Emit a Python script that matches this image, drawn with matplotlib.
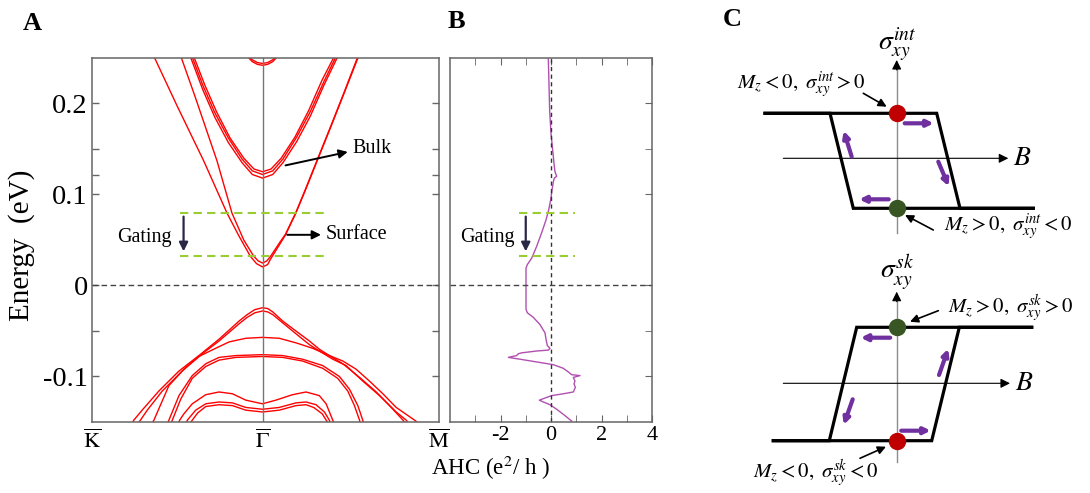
import matplotlib.pyplot as plt
import numpy as np

plt.rcParams['font.family'] = ['Liberation Serif', 'DejaVu Serif']
plt.rcParams['mathtext.fontset'] = 'stix'

# ---------------- panel A: band structure, k in units of |K-Gamma|, E in eV
# conduction: surface-state pair
surf1_k = [-0.645, -0.50, -0.345, -0.208, -0.14, -0.071, -0.035, 0, 0.03, 0.047, 0.10, 0.135, 0.194, 0.25, 0.312, 0.40, 0.48, 0.570]
surf1_e = [0.255, 0.197, 0.137, 0.0795, 0.055, 0.032, 0.024, 0.0204, 0.023, 0.029, 0.045, 0.0557, 0.079, 0.104, 0.133, 0.174, 0.212, 0.255]
surf2_k = [-0.485, -0.40, -0.267, -0.179, -0.11, -0.051, -0.025, 0, 0.025, 0.047, 0.10, 0.135, 0.194, 0.25, 0.312, 0.40, 0.48, 0.566]
surf2_e = [0.255, 0.21, 0.137, 0.0795, 0.05, 0.032, 0.027, 0.0247, 0.027, 0.032, 0.047, 0.0565, 0.0795, 0.105, 0.134, 0.175, 0.213, 0.255]
# conduction: bulk bands
bulk1_k = [-0.43, -0.35, -0.28, -0.2, -0.12, -0.06, 0, 0.06, 0.12, 0.2, 0.28, 0.36, 0.45]
bulk1_e = [0.255, 0.215, 0.185, 0.157, 0.135, 0.122, 0.118, 0.122, 0.135, 0.158, 0.186, 0.220, 0.255]
bulk2_k = [-0.42, -0.35, -0.28, -0.2, -0.12, -0.06, 0, 0.06, 0.12, 0.2, 0.28, 0.36, 0.44]
bulk2_e = [0.255, 0.220, 0.190, 0.162, 0.139, 0.126, 0.122, 0.126, 0.139, 0.163, 0.191, 0.224, 0.255]
bulk3_k = [-0.41, -0.34, -0.27, -0.19, -0.11, -0.05, 0, 0.05, 0.11, 0.19, 0.27, 0.35, 0.43]
bulk3_e = [0.255, 0.221, 0.191, 0.162, 0.140, 0.128, 0.125, 0.128, 0.140, 0.163, 0.192, 0.226, 0.255]
high_k = [-0.09, -0.06, -0.03, 0, 0.03, 0.06, 0.09]
high_e = [0.252, 0.246, 0.243, 0.242, 0.243, 0.246, 0.252]
# valence bands
val1_k = [-0.79, -0.755, -0.706, -0.608, -0.490, -0.373, -0.255, -0.137, -0.09, -0.045, 0, 0.03, 0.06, 0.118, 0.196, 0.275, 0.333, 0.392, 0.471, 0.569, 0.667, 0.745, 0.824, 0.85]
val1_e = [-0.16, -0.148, -0.137, -0.116, -0.094, -0.077, -0.059, -0.039, -0.032, -0.0265, -0.0244, -0.0253, -0.029, -0.039, -0.050, -0.061, -0.070, -0.077, -0.086, -0.101, -0.117, -0.132, -0.148, -0.155]
val2_k = [-0.745, -0.716, -0.676, -0.588, -0.471, -0.353, -0.255, -0.137, -0.09, -0.045, 0, 0.03, 0.06, 0.118, 0.196, 0.275, 0.333, 0.412, 0.490, 0.588, 0.686, 0.784, 0.843, 0.87]
val2_e = [-0.155, -0.148, -0.137, -0.116, -0.094, -0.075, -0.061, -0.042, -0.035, -0.030, -0.028, -0.029, -0.032, -0.041, -0.053, -0.065, -0.072, -0.081, -0.088, -0.105, -0.121, -0.139, -0.148, -0.155]
val3_k = [-0.66, -0.637, -0.549, -0.451, -0.373, -0.275, -0.196, -0.098, 0, 0.098, 0.196, 0.294, 0.392, 0.471, 0.549, 0.627, 0.706, 0.784, 0.892, 0.92]
val3_e = [-0.155, -0.148, -0.110, -0.090, -0.078, -0.069, -0.062, -0.058, -0.057, -0.058, -0.063, -0.069, -0.077, -0.083, -0.092, -0.105, -0.119, -0.134, -0.148, -0.152]
val4_k = [-0.565, -0.549, -0.490, -0.412, -0.333, -0.255, -0.157, 0, 0.118, 0.235, 0.353, 0.451, 0.510, 0.559, 0.588, 0.595]
val4_e = [-0.155, -0.148, -0.121, -0.099, -0.086, -0.079, -0.077, -0.076, -0.077, -0.081, -0.088, -0.100, -0.114, -0.132, -0.148, -0.153]
val5_k = [-0.545, -0.529, -0.480, -0.412, -0.333, -0.255, -0.157, 0, 0.118, 0.235, 0.353, 0.441, 0.5, 0.539, 0.569, 0.575]
val5_e = [-0.155, -0.148, -0.125, -0.102, -0.089, -0.082, -0.079, -0.078, -0.079, -0.083, -0.091, -0.102, -0.116, -0.132, -0.148, -0.153]
val6_k = [-0.495, -0.486, -0.461, -0.412, -0.333, -0.255, -0.176, -0.098, 0, 0.078, 0.176, 0.255, 0.333, 0.373, 0.412, 0.42]
val6_e = [-0.152, -0.148, -0.141, -0.130, -0.120, -0.117, -0.119, -0.126, -0.130, -0.126, -0.120, -0.117, -0.121, -0.130, -0.148, -0.152]
val7_k = [-0.45, -0.441, -0.392, -0.333, -0.255, -0.176, -0.098, 0, 0.098, 0.196, 0.255, 0.314, 0.363, 0.392, 0.40]
val7_e = [-0.152, -0.148, -0.137, -0.130, -0.128, -0.129, -0.134, -0.136, -0.134, -0.129, -0.128, -0.131, -0.139, -0.148, -0.152]
val8_k = [-0.43, -0.42, -0.38, -0.333, -0.255, -0.176, -0.098, 0, 0.098, 0.196, 0.255, 0.30, 0.35, 0.38, 0.39]
val8_e = [-0.153, -0.150, -0.140, -0.133, -0.131, -0.132, -0.137, -0.139, -0.137, -0.132, -0.131, -0.134, -0.141, -0.150, -0.153]

kpath_pos = [-1, 0, 1.035]
kpath_lab = [r'$\overline{\mathrm{K}}$', r'$\overline{\Gamma}$', r'$\overline{\mathrm{M}}$']
gate_levels = [0.0795, 0.032]

# ---------------- panel B: anomalous Hall conductivity (e^2/h) vs energy
ahc_e = [0.249, 0.221, 0.192, 0.167, 0.149, 0.134, 0.125, 0.120, 0.118, 0.114, 0.105, 0.094, 0.083, 0.072,
         0.058, 0.043, 0.030, 0.023, 0.019, -0.026, -0.030, -0.035, -0.043, -0.052, -0.059, -0.066, -0.069,
         -0.071, -0.072, -0.074, -0.075, -0.077, -0.079, -0.081, -0.084, -0.087, -0.091, -0.095, -0.098,
         -0.099, -0.101, -0.105, -0.108, -0.112, -0.117, -0.119, -0.121, -0.123, -0.126, -0.128, -0.131,
         -0.136, -0.143, -0.149]
ahc_val = [-0.106, -0.079, -0.053, 0.0, 0.066, 0.119, 0.158, 0.224, 0.132, 0.092, 0.040, -0.013, -0.092, -0.198,
           -0.370, -0.568, -0.766, -0.937, -0.990, -0.990, -0.937, -0.700, -0.436, -0.238, -0.198, -0.145, -0.040,
           -0.106, -0.568, -1.162, -1.294, -1.360, -1.690, -1.228, -0.568, 0.092, 0.488, 0.686, 0.818,
           1.149, 0.884, 0.950, 0.911, 0.964, 0.884, 0.488, 0.026, -0.172, -0.462, -0.304, -0.040,
           0.224, 0.554, 0.818]

# ---------------- panel C: hysteresis schematics (arbitrary units)
int_up_B = [-131.7, 40.0, 63.3, 136.6]
int_up_s = [45, 45, -50, -50]
int_dn_B = [-131.7, -66.7, -43.4, 136.6]
int_dn_s = [45, 45, -50, -50]
sk_up_B = [-123.4, -67.4, -40.0, 135.0]
sk_up_s = [-57.4, -57.4, 56, 56]
sk_dn_B = [-123.4, 35.0, 62.6, 135.0]
sk_dn_s = [-57.4, -57.4, 56, 56]

red = '#c00000'
green = '#375623'
purple = '#7030a0'
gate_green = '#9acd32'
frame = '#666666'

fig = plt.figure(figsize=(10.9, 4.93), dpi=100)

# ---- A
ax1 = fig.add_axes([92/1090, 1-422/493, 347/1090, 364/493])
bands = [(surf1_k, surf1_e), (surf2_k, surf2_e), (bulk1_k, bulk1_e), (bulk2_k, bulk2_e),
         (bulk3_k, bulk3_e), (high_k, high_e), (high_k, np.array(high_e) + 0.002),
         (val1_k, val1_e), (val2_k, val2_e), (val3_k, val3_e), (val4_k, val4_e),
         (val5_k, val5_e), (val6_k, val6_e), (val7_k, val7_e), (val8_k, val8_e)]
for k, e in bands:
    ax1.plot(k, e, color='red', lw=1.0, solid_joinstyle='round')
ax1.axvline(0, color='#777777', lw=1)
ax1.axhline(0, color='#444444', lw=1, ls=(0, (4, 2.5)))
for lev in gate_levels:
    ax1.plot([-0.482, 0.388], [lev, lev], color=gate_green, lw=1.5, ls=(0, (4, 2.5)))
ax1.annotate('', xy=(-0.463, 0.0375), xytext=(-0.463, 0.0757),
             arrowprops=dict(arrowstyle='-|>', color='#2a2645', lw=1.6, mutation_scale=13, shrinkA=0, shrinkB=0))
ax1.text(-0.535, 0.0525, 'Gating', ha='right', va='center', fontsize=14.5)
ax1.annotate('', xy=(0.50, 0.1468), xytext=(0.135, 0.132),
             arrowprops=dict(arrowstyle='-|>', color='k', lw=1.4, mutation_scale=13, shrinkA=0, shrinkB=0))
ax1.text(0.527, 0.150, 'Bulk', ha='left', va='center', fontsize=14.5)
ax1.annotate('', xy=(0.343, 0.0557), xytext=(0.145, 0.0557),
             arrowprops=dict(arrowstyle='-|>', color='k', lw=1.4, mutation_scale=13, shrinkA=0, shrinkB=0))
ax1.text(0.371, 0.0557, 'Surface', ha='left', va='center', fontsize=14.5)
ax1.set_xlim(-1, 1.035)
ax1.set_ylim(-0.15, 0.25)
ax1.set_xticks(kpath_pos)
ax1.set_xticklabels(kpath_lab, fontsize=16)
ax1.tick_params(axis='x', length=0, pad=6)
ax1.set_yticks([-0.1, 0, 0.1, 0.2])
ax1.set_yticklabels(['-0.1', '0', '0.1', '0.2'], fontsize=20.5)
ax1.set_yticks([-0.05, 0.121, 0.15], minor=True)
ax1.tick_params(axis='y', which='both', direction='in', length=5, width=1, color=frame,
                left=True, right=True, pad=3)
for s in ax1.spines.values():
    s.set_color(frame)
    s.set_linewidth(1.1)

# ---- B
ax2 = fig.add_axes([450/1090, 1-422/493, 202/1090, 364/493])
ax2.plot(ahc_val, ahc_e, color='#b050b0', lw=1.0)
ax2.axvline(0, color='#333333', lw=1, ls=(0, (3, 2.5)))
ax2.axhline(0, color='#444444', lw=1, ls=(0, (4, 2.5)))
for lev in gate_levels:
    ax2.plot([-1.27, 0.95], [lev, lev], color=gate_green, lw=1.5, ls=(0, (4, 2.5)))
ax2.annotate('', xy=(-1.0, 0.0375), xytext=(-1.0, 0.0757),
             arrowprops=dict(arrowstyle='-|>', color='#2a2645', lw=1.6, mutation_scale=13, shrinkA=0, shrinkB=0))
ax2.text(-1.45, 0.0525, 'Gating', ha='right', va='center', fontsize=14.5)
ax2.set_xlim(-4, 4)
ax2.set_ylim(-0.15, 0.25)
ax2.set_xticks([-2, 0, 2, 4])
ax2.set_xticklabels(['-2', '0', '2', '4'], fontsize=16)
ax2.set_xticks([-3, -1, 1, 3], minor=True)
ax2.tick_params(axis='x', which='both', direction='in', length=5, color=frame, top=True, bottom=True, pad=3)
ax2.set_yticks([-0.1, 0, 0.1, 0.2])
ax2.set_yticks([-0.05, 0.15], minor=True)
ax2.set_yticklabels([])
ax2.tick_params(axis='y', which='both', direction='in', length=5, color=frame, left=False, right=True)
for s in ax2.spines.values():
    s.set_color(frame)
    s.set_linewidth(1.1)

fig.text(22/1090, 1-245/493, 'Energy  (eV)', rotation=90, ha='center', va='center', fontsize=21)
fig.text(490/1090, 1-468/493, r'AHC (e$^2$/ h )', ha='center', va='center', fontsize=16.5)
fig.text(32/1090, 1-24/493, 'A', ha='center', va='center', fontsize=19, fontweight='bold')
fig.text(456/1090, 1-22/493, 'B', ha='center', va='center', fontsize=19, fontweight='bold')
fig.text(732/1090, 1-20/493, 'C', ha='center', va='center', fontsize=19, fontweight='bold')


def schematic(ax, up_B, up_s, dn_B, dn_s, vtop, vbot, xtip):
    ax.plot([0, 0], [vbot, vtop - 8], color='#8c8c8c', lw=1, zorder=1)
    ax.annotate('', xy=(0, vtop), xytext=(0, vtop - 10),
                arrowprops=dict(arrowstyle='-|>', color='k', lw=0.8, mutation_scale=14, shrinkA=0, shrinkB=0))
    ax.annotate('', xy=(xtip, 0), xytext=(-113.4, 0),
                arrowprops=dict(arrowstyle='-|>', color='k', lw=0.8, mutation_scale=14, shrinkA=0, shrinkB=0))
    ax.plot(up_B, up_s, color='k', lw=2.3, zorder=2, solid_joinstyle='miter')
    ax.plot(dn_B, dn_s, color='k', lw=2.3, zorder=2, solid_joinstyle='miter')
    ax.text(xtip + 5, 0, r'$B$', ha='left', va='center', fontsize=20)


def parrow(ax, x0, y0, x1, y1):
    ax.annotate('', xy=(x1, y1), xytext=(x0, y0),
                arrowprops=dict(arrowstyle='-|>', color=purple, lw=3.0, mutation_scale=9, shrinkA=0, shrinkB=0))


def karrow(ax, x0, y0, x1, y1):
    ax.annotate('', xy=(x1, y1), xytext=(x0, y0),
                arrowprops=dict(arrowstyle='-|>', color='k', lw=1.2, mutation_scale=12, shrinkA=0, shrinkB=0))


# ---- C top (intrinsic)
ax3 = fig.add_axes([730/1090, 1-240/493, 360/1090, 210/493])
ax3.set_xlim(-166.7, 193.3)
ax3.set_ylim(-81.7, 128.3)
ax3.axis('off')
schematic(ax3, int_up_B, int_up_s, int_dn_B, int_dn_s, 98.3, -74.7, 111.6)
ax3.plot(0, 45, 'o', ms=11.5, color=red, zorder=4)
ax3.plot(0, -50, 'o', ms=11.5, color=green, zorder=4)
parrow(ax3, 8, 35, 37, 35)
parrow(ax3, 41.6, -3.4, 52, -28)
parrow(ax3, -8, -41, -37.5, -41)
parrow(ax3, -45, 1.6, -53, 27.5)
ax3.text(0, 114, r'$\sigma_{xy}^{int}$', ha='center', va='center', fontsize=20)
ax3.text(-95, 73.3, r'$M_z < 0,\ \sigma_{xy}^{int} > 0$', ha='center', va='center', fontsize=15)
karrow(ax3, -33.4, 65, -10, 51.6)
ax3.text(112, -68.7, r'$M_z > 0,\ \sigma_{xy}^{int} < 0$', ha='center', va='center', fontsize=15)
karrow(ax3, 36.6, -71.7, 8.3, -56.7)

# ---- C bottom (skyrmion)
ax4 = fig.add_axes([730/1090, 1-490/493, 360/1090, 235/493])
ax4.set_xlim(-166.7, 193.3)
ax4.set_ylim(-106.7, 128.3)
ax4.axis('off')
schematic(ax4, sk_up_B, sk_up_s, sk_dn_B, sk_dn_s, 91.6, -78.4, 113.3)
ax4.plot(0, 56, 'o', ms=11.5, color=green, zorder=4)
ax4.plot(0, -57.4, 'o', ms=11.5, color=red, zorder=4)
parrow(ax4, -6.5, 45.6, -36, 45.6)
parrow(ax4, 42.3, 8.3, 51.5, 34.5)
parrow(ax4, -44, -16, -53, -41.5)
parrow(ax4, 4.5, -47.4, 34, -47.4)
ax4.text(0, 110, r'$\sigma_{xy}^{sk}$', ha='center', va='center', fontsize=20)
ax4.text(114, 75.3, r'$M_z > 0,\ \sigma_{xy}^{sk} > 0$', ha='center', va='center', fontsize=15)
karrow(ax4, 41.6, 72.6, 13.3, 61.6)
ax4.text(-81, -89.7, r'$M_z < 0,\ \sigma_{xy}^{sk} < 0$', ha='center', va='center', fontsize=15)
karrow(ax4, -36.7, -75, -10.7, -63.4)

fig.savefig('out.png', dpi=100)
